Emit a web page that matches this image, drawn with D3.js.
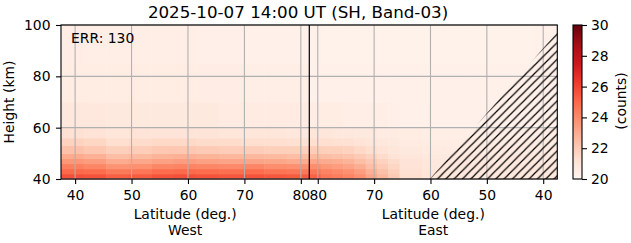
<!DOCTYPE html>
<html>
<head>
<meta charset="utf-8">
<script src="https://cdn.jsdelivr.net/npm/d3@7"></script>
<style>
body { margin: 0; background: #fff; }
svg { display: block; font-family: "DejaVu Sans", sans-serif; }
</style>
</head>
<body>
<svg width="631" height="243"></svg>
<script>
// height bin edges (km) and latitude bin edges for the two halves
var heightEdges = [40, 42, 44, 46, 48, 50, 53, 56, 60, 70, 85, 100];
var westEdges = [37.5, 41.5, 45.5, 49.5, 53.5, 57.5, 61.5, 65.5, 69.5, 73.5, 77.5, 81.5];
var eastEdges = [81.5, 79.5, 77.5, 75.5, 73.5, 71.5, 69.5, 67.5, 65.5, 61.5, 57.5, 53.5, 49.5, 45.5, 41.5, 37.5];

// counts, one row per height bin (bottom to top)
var westCounts = [
  [25.7, 25.6, 25.3, 25.4, 25.6, 25.7, 25.6, 25.5, 25.6, 25.5, 25.4],
  [25.0, 24.9, 24.5, 24.6, 24.9, 25.0, 24.9, 24.8, 24.9, 24.7, 24.6],
  [24.3, 24.1, 23.7, 23.8, 24.1, 24.2, 24.1, 24.0, 24.1, 23.9, 23.8],
  [23.6, 23.4, 23.0, 23.1, 23.3, 23.4, 23.3, 23.2, 23.2, 23.1, 23.0],
  [23.0, 22.8, 22.4, 22.5, 22.7, 22.8, 22.7, 22.6, 22.6, 22.5, 22.4],
  [22.3, 22.1, 21.8, 21.9, 22.1, 22.1, 22.0, 21.9, 21.9, 21.8, 21.8],
  [21.7, 21.6, 21.3, 21.4, 21.5, 21.5, 21.4, 21.4, 21.3, 21.3, 21.2],
  [21.2, 21.1, 20.9, 21.0, 21.0, 21.0, 21.0, 20.9, 20.9, 20.9, 20.8],
  [20.8, 20.8, 20.7, 20.7, 20.7, 20.7, 20.7, 20.6, 20.6, 20.6, 20.6],
  [20.55, 20.5, 20.5, 20.5, 20.5, 20.5, 20.45, 20.45, 20.4, 20.4, 20.4],
  [20.45, 20.4, 20.4, 20.4, 20.4, 20.4, 20.35, 20.35, 20.3, 20.3, 20.3]
];
var eastCounts = [
  [25.2, 24.6, 24.4, 24.2, 23.8, 23.2, 22.6, 22.0, 21.3, 20.9, 20.9, 20.8, 20.8, 20.8, 20.8],
  [24.6, 24.2, 24.0, 23.8, 23.4, 22.8, 22.3, 21.8, 21.2, 20.9, 20.8, 20.8, 20.8, 20.8, 20.8],
  [23.9, 23.6, 23.4, 23.2, 22.9, 22.4, 22.0, 21.6, 21.1, 20.8, 20.8, 20.8, 20.8, 20.8, 20.8],
  [23.1, 23.0, 22.9, 22.7, 22.4, 22.1, 21.7, 21.4, 21.0, 20.8, 20.8, 20.7, 20.7, 20.7, 20.7],
  [22.5, 22.4, 22.3, 22.2, 22.0, 21.7, 21.4, 21.1, 20.9, 20.7, 20.7, 20.7, 20.7, 20.7, 20.7],
  [21.9, 21.8, 21.8, 21.7, 21.5, 21.3, 21.1, 20.9, 20.7, 20.6, 20.6, 20.6, 20.6, 20.6, 20.6],
  [21.3, 21.3, 21.2, 21.2, 21.1, 20.9, 20.8, 20.7, 20.6, 20.5, 20.5, 20.5, 20.5, 20.5, 20.5],
  [20.9, 20.9, 20.8, 20.8, 20.7, 20.7, 20.6, 20.6, 20.5, 20.4, 20.4, 20.4, 20.4, 20.4, 20.4],
  [20.5, 20.5, 20.5, 20.4, 20.4, 20.4, 20.4, 20.35, 20.3, 20.3, 20.3, 20.3, 20.3, 20.3, 20.3],
  [20.3, 20.3, 20.3, 20.3, 20.3, 20.25, 20.25, 20.25, 20.25, 20.25, 20.25, 20.25, 20.25, 20.25, 20.3],
  [20.25, 20.2, 20.2, 20.2, 20.2, 20.2, 20.2, 20.2, 20.2, 20.2, 20.2, 20.2, 20.2, 20.2, 20.25]
];

// region with no data (east side), hatched
var noDataLat = [60.1, 37.5, 37.5];
var noDataHeight = [40, 97.3, 40];

var westTicks = [40, 50, 60, 70, 80];
var eastTicks = [80, 70, 60, 50, 40];
var heightTicks = [40, 60, 80, 100];
var countTicks = [20, 22, 24, 26, 28, 30];
var redsStops = ['#fff5f0', '#fee0d2', '#fcbba1', '#fc9272', '#fb6a4a', '#ef3b2c', '#cb181d', '#a50f15', '#67000d'];

var svg = d3.select('svg');
var plotLeft = 61, plotMid = 309.3, plotRight = 557.3, plotTop = 25, plotBottom = 179;

var xWest = d3.scaleLinear().domain([37.5, 81.5]).range([plotLeft, plotMid]);
var xEast = d3.scaleLinear().domain([81.5, 37.5]).range([plotMid, plotRight]);
var y = d3.scaleLinear().domain([40, 100]).range([plotBottom, plotTop]);
var color = d3.scaleLinear()
  .domain(redsStops.map(function(d, i) { return 20 + i * 10 / 8; }))
  .range(redsStops)
  .clamp(true);

var defs = svg.append('defs');

// cells
function drawCells(counts, edges, x) {
  var cells = [];
  counts.forEach(function(row, i) {
    row.forEach(function(v, j) {
      cells.push({ x0: x(edges[j]), x1: x(edges[j + 1]), y0: y(heightEdges[i]), y1: y(heightEdges[i + 1]), v: v });
    });
  });
  svg.append('g').selectAll('rect')
    .data(cells)
    .enter()
    .append('rect')
    .attr('x', function(d) { return Math.min(d.x0, d.x1); })
    .attr('y', function(d) { return Math.min(d.y0, d.y1); })
    .attr('width', function(d) { return Math.abs(d.x1 - d.x0) + 0.5; })
    .attr('height', function(d) { return Math.abs(d.y1 - d.y0) + 0.5; })
    .attr('fill', function(d) { return color(d.v); });
}
drawCells(westCounts, westEdges, xWest);
drawCells(eastCounts, eastEdges, xEast);

// grid
var grid = svg.append('g').attr('stroke', '#b0b0b0').attr('stroke-width', 1.1);
westTicks.forEach(function(t) {
  grid.append('line').attr('x1', xWest(t)).attr('x2', xWest(t)).attr('y1', plotTop).attr('y2', plotBottom);
});
eastTicks.forEach(function(t) {
  grid.append('line').attr('x1', xEast(t)).attr('x2', xEast(t)).attr('y1', plotTop).attr('y2', plotBottom);
});
heightTicks.forEach(function(t) {
  grid.append('line').attr('x1', plotLeft).attr('x2', plotRight).attr('y1', y(t)).attr('y2', y(t));
});

// hatch
var h = 8.33;
var pattern = defs.append('pattern')
  .attr('id', 'hatch')
  .attr('patternUnits', 'userSpaceOnUse')
  .attr('width', h).attr('height', h);
pattern.append('path')
  .attr('d', 'M0,' + h + 'L' + h + ',0M-2,2L2,-2M' + (h - 2) + ',' + (h + 2) + 'L' + (h + 2) + ',' + (h - 2))
  .attr('stroke', '#000')
  .attr('stroke-width', 1.2);
var noData = noDataLat.map(function(lat, i) { return [xEast(lat), y(noDataHeight[i])]; });
svg.append('path')
  .attr('d', d3.line()(noData) + 'Z')
  .attr('fill', 'url(#hatch)');

// divider between west and east
svg.append('line')
  .attr('x1', plotMid).attr('x2', plotMid).attr('y1', plotTop).attr('y2', plotBottom)
  .attr('stroke', '#000').attr('stroke-width', 1.2);

// axes
function styleAxis(g) {
  g.select('.domain').remove();
  g.selectAll('line').attr('stroke', '#000').attr('stroke-width', 1.1);
  g.selectAll('text').attr('font-size', '13.9px').attr('fill', '#000').attr('font-family', '"DejaVu Sans", sans-serif');
}
svg.append('g').attr('transform', 'translate(0,' + plotBottom + ')')
  .call(d3.axisBottom(xWest).tickValues(westTicks).tickSize(5).tickPadding(6.5))
  .call(styleAxis);
svg.append('g').attr('transform', 'translate(0,' + plotBottom + ')')
  .call(d3.axisBottom(xEast).tickValues(eastTicks).tickSize(5).tickPadding(6.5))
  .call(styleAxis);
svg.append('g').attr('transform', 'translate(' + plotLeft + ',0)')
  .call(d3.axisLeft(y).tickValues(heightTicks).tickSize(5).tickPadding(5.5))
  .call(styleAxis);

svg.append('rect')
  .attr('x', plotLeft).attr('y', plotTop).attr('width', plotRight - plotLeft).attr('height', plotBottom - plotTop)
  .attr('fill', 'none').attr('stroke', '#000').attr('stroke-width', 1.1);

// colorbar
var cbX = 573, cbW = 9;
var cy = d3.scaleLinear().domain([20, 30]).range([plotBottom, plotTop]);
var grad = defs.append('linearGradient')
  .attr('id', 'cbgrad').attr('x1', 0).attr('y1', 1).attr('x2', 0).attr('y2', 0);
redsStops.forEach(function(c, i) {
  grad.append('stop').attr('offset', i / 8).attr('stop-color', c);
});
svg.append('rect')
  .attr('x', cbX).attr('y', plotTop).attr('width', cbW).attr('height', plotBottom - plotTop)
  .attr('fill', 'url(#cbgrad)').attr('stroke', '#000').attr('stroke-width', 1.1);
svg.append('g').attr('transform', 'translate(' + (cbX + cbW) + ',0)')
  .call(d3.axisRight(cy).tickValues(countTicks).tickSize(5).tickPadding(4))
  .call(styleAxis);

// texts
function label(x, yy, txt, size, anchor, rot) {
  svg.append('text')
    .attr('transform', 'translate(' + x + ',' + yy + ')' + (rot ? ' rotate(' + rot + ')' : ''))
    .attr('text-anchor', anchor)
    .attr('font-size', size)
    .attr('fill', '#000')
    .text(txt);
}
label(298, 17.5, '2025-10-07 14:00 UT (SH, Band-03)', '16.7px', 'middle');
label(71, 43, 'ERR: 130', '13.9px', 'start');
label(13.5, (plotTop + plotBottom) / 2, 'Height (km)', '13.9px', 'middle', -90);
label((plotLeft + plotMid) / 2, 218.5, 'Latitude (deg.)', '13.9px', 'middle');
label((plotLeft + plotMid) / 2, 235, 'West', '13.9px', 'middle');
label((plotMid + plotRight) / 2, 218.5, 'Latitude (deg.)', '13.9px', 'middle');
label((plotMid + plotRight) / 2, 235, 'East', '13.9px', 'middle');
label(626, 101, '(counts)', '13.9px', 'middle', -90);
</script>
</body>
</html>
